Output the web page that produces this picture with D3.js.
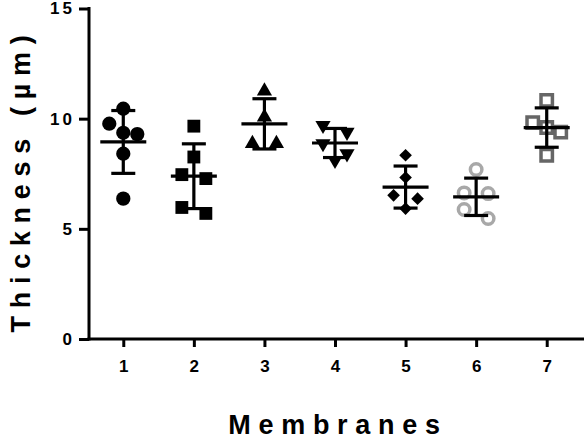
<!DOCTYPE html>
<html>
<head>
<meta charset="utf-8">
<script src="https://cdn.jsdelivr.net/npm/d3@7"></script>
<style>
  html, body { margin: 0; padding: 0; background: #fff; }
  svg { display: block; font-family: Arial, 'Liberation Sans', sans-serif; }
</style>
</head>
<body>
<svg id="chart"></svg>
<script>
// thickness readings per membrane (µm)
const membranes = [1, 2, 3, 4, 5, 6, 7];
const m1 = [10.45, 9.77, 9.36, 9.30, 8.41, 6.37];
const m2 = [9.66, 8.26, 7.46, 7.28, 5.97, 5.70];
const m3 = [11.25, 10.07, 8.87, 8.87];
const m4 = [9.70, 9.39, 8.87, 8.41, 8.11];
const m5 = [8.34, 7.33, 6.52, 6.37, 5.92];
const m6 = [7.69, 6.63, 6.60, 5.88, 5.47];
const m7 = [10.83, 9.82, 9.60, 9.39, 8.34];
const series = [m1, m2, m3, m4, m5, m6, m7];
const yTicks = [0, 5, 10, 15];

const width = 584;
const height = 439;
const margin = { top: 8.5, right: 0, bottom: 100, left: 89 };

const markerStyles = [
  { type: d3.symbolCircle, size: 160, fill: '#000', stroke: 'none', rotate: 0 },
  { type: d3.symbolSquare, size: 165, fill: '#000', stroke: 'none', rotate: 0 },
  { type: d3.symbolTriangle, size: 100, fill: '#000', stroke: 'none', rotate: 0 },
  { type: d3.symbolTriangle, size: 100, fill: '#000', stroke: 'none', rotate: 180 },
  { type: d3.symbolSquare, size: 80, fill: '#000', stroke: 'none', rotate: 45 },
  { type: d3.symbolCircle, size: 104, fill: 'none', stroke: '#a8a8a8', rotate: 0 },
  { type: d3.symbolSquare, size: 130, fill: 'none', stroke: '#666', rotate: 0 },
];

const svg = d3.select('#chart')
  .attr('width', width)
  .attr('height', height);

const x = d3.scaleLinear()
  .domain([0.5, 7.5])
  .range([margin.left - 1, width - 2]);

const y = d3.scaleLinear()
  .domain([0, 15])
  .range([height - margin.bottom, margin.top]);

// spread points that sit at similar heights into rows, like a column scatter
function spreadRow(values) {
  const sorted = values.slice().sort((a, b) => b - a);
  const rows = [];
  let row = null;
  for (const v of sorted) {
    if (row && row[0] - v < 0.5) {
      row.push(v);
    } else {
      row = [v];
      rows.push(row);
    }
  }
  const out = [];
  for (const r of rows) {
    const step = r.length === 2 ? 24 : 14;
    r.forEach((v, i) => out.push({ value: v, dx: (i - (r.length - 1) / 2) * step }));
  }
  return out;
}

// axes
const yAxis = svg.append('g')
  .attr('transform', 'translate(' + margin.left + ',0)')
  .call(d3.axisLeft(y).tickValues(yTicks).tickFormat(d3.format('d')).tickSize(10).tickSizeOuter(0).tickPadding(4));

const xAxis = svg.append('g')
  .attr('transform', 'translate(0,' + (height - margin.bottom) + ')')
  .call(d3.axisBottom(x).tickValues(membranes).tickFormat(d3.format('d')).tickSize(8).tickSizeOuter(0).tickPadding(13));

[yAxis, xAxis].forEach((g) => {
  g.attr('font-size', 17).attr('font-family', "Arial, 'Liberation Sans', sans-serif");
  g.selectAll('path, line').attr('stroke', '#000').attr('stroke-width', 3);
  g.selectAll('text')
    .attr('fill', '#000')
    .style('font-size', '17px')
    .style('font-weight', 'bold');
});
yAxis.selectAll('text').attr('letter-spacing', '3px');
yAxis.select('.domain').attr('d', 'M0,' + (y(15) - 1.5) + 'V' + (y(0) + 1.5));
xAxis.select('.domain').attr('d', 'M' + (margin.left - 1.5) + ',0H' + width);

// points
const plot = svg.append('g');
series.forEach((vals, i) => {
  const style = markerStyles[i];
  const sym = d3.symbol().type(style.type).size(style.size);
  const cx = x(membranes[i]);
  plot.append('g')
    .selectAll('path')
    .data(spreadRow(vals))
    .enter()
    .append('path')
    .attr('d', sym)
    .attr('transform', (d) => 'translate(' + (cx + d.dx) + ',' + y(d.value) + ') rotate(' + style.rotate + ')')
    .attr('fill', style.fill)
    .attr('stroke', style.stroke)
    .attr('stroke-width', 3.5);
});

// mean and SD bars on top
const bars = svg.append('g').attr('stroke', '#000').attr('stroke-width', 3.2);
series.forEach((vals, i) => {
  const cx = x(membranes[i]);
  const mean = d3.mean(vals);
  const sd = d3.deviation(vals);
  bars.append('line')
    .attr('x1', cx).attr('x2', cx)
    .attr('y1', y(mean + sd)).attr('y2', y(mean - sd));
  bars.append('line')
    .attr('x1', cx - 12).attr('x2', cx + 12)
    .attr('y1', y(mean + sd)).attr('y2', y(mean + sd));
  bars.append('line')
    .attr('x1', cx - 12).attr('x2', cx + 12)
    .attr('y1', y(mean - sd)).attr('y2', y(mean - sd));
  bars.append('line')
    .attr('x1', cx - 23).attr('x2', cx + 23)
    .attr('y1', y(mean)).attr('y2', y(mean));
});

// axis titles
svg.append('text')
  .attr('x', 338)
  .attr('y', 434)
  .attr('text-anchor', 'middle')
  .attr('font-size', 27)
  .attr('font-weight', 'bold')
  .attr('letter-spacing', '7.7px')
  .text('Membranes');

svg.append('text')
  .attr('transform', 'translate(30,180) rotate(-90)')
  .attr('text-anchor', 'middle')
  .attr('font-size', 27)
  .attr('font-weight', 'bold')
  .attr('letter-spacing', '7.7px')
  .text('Thickness (µm)');
</script>
</body>
</html>
